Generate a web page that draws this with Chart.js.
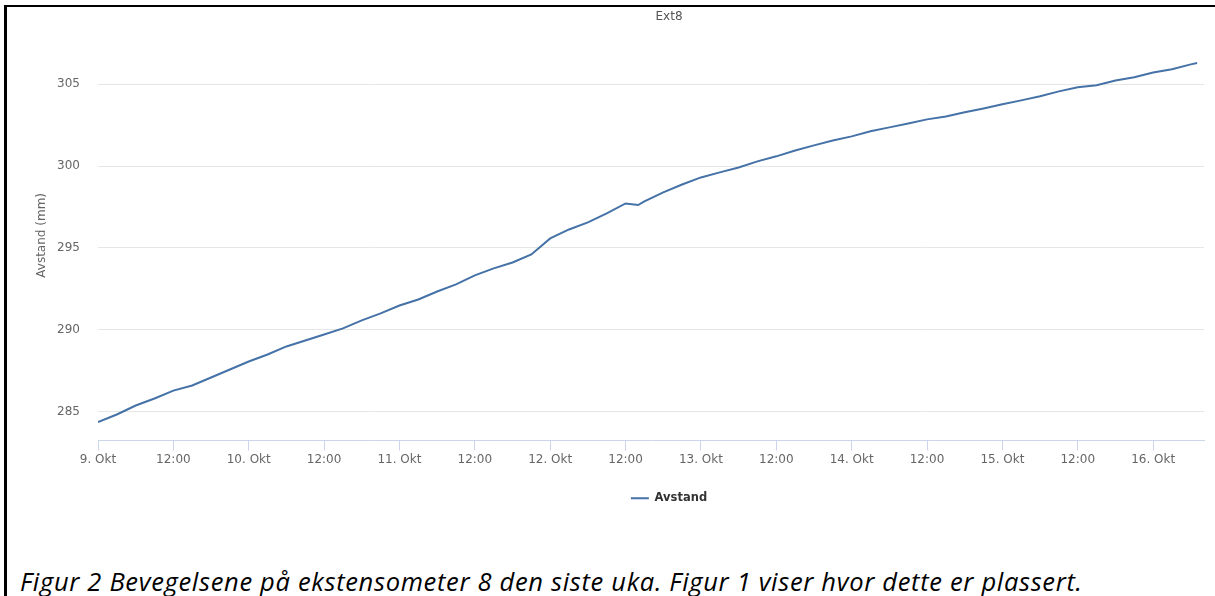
<!DOCTYPE html>
<html>
<head>
<meta charset="utf-8">
<script src="https://cdn.jsdelivr.net/npm/chart.js@4.4.0/dist/chart.umd.min.js"></script>
<style>
    html, body { margin: 0; padding: 0; background: #fff; overflow: hidden; }
    body { width: 1215px; height: 596px; position: relative; }
    .frame {
        position: absolute; left: 4px; top: 5px; width: 1300px; height: 700px;
        border-left: 3px solid #000; border-top: 2px solid #000;
    }
    .chart-wrap { position: absolute; left: 6px; top: 5px; width: 1326px; height: 511px; }
    .caption {
        position: absolute; left: 20px; top: 569px; white-space: nowrap;
        font-family: "Open Sans", "Liberation Sans", sans-serif; font-style: italic;
        font-size: 25.5px; line-height: 1; color: #000;
    }
</style>
</head>
<body>
<div class="frame"></div>
<div class="chart-wrap"><canvas id="extChart" width="1326" height="511"></canvas></div>
<div class="caption" id="caption">Figur 2 Bevegelsene på ekstensometer 8 den siste uka. Figur 1 viser hvor dette er plassert.</div>
<script>
// timer etter 9. Okt 00:00
const hours = [0, 3, 6, 9, 12, 15, 18, 21, 24, 27, 30, 33, 36, 39, 42, 45, 48, 51, 54, 57,
    60, 63, 66, 69, 72, 75, 78, 81, 84, 86, 87, 90, 93, 96, 99, 102, 105, 108, 111, 114,
    117, 120, 123, 126, 129, 132, 135, 138, 141, 144, 147, 150, 153, 156, 159, 162, 165, 168, 171, 174, 175];
const avstand = [284.35, 284.82, 285.37, 285.80, 286.28, 286.59, 287.08, 287.57, 288.06, 288.49,
    288.98, 289.34, 289.71, 290.08, 290.57, 291.00, 291.48, 291.85, 292.34, 292.77,
    293.32, 293.75, 294.11, 294.60, 295.58, 296.13, 296.56, 297.11, 297.72, 297.62, 297.85, 298.40,
    298.88, 299.31, 299.62, 299.92, 300.29, 300.60, 300.96, 301.27, 301.57, 301.82, 302.13,
    302.37, 302.61, 302.86, 303.04, 303.29, 303.53, 303.78, 304.02, 304.27, 304.57, 304.82,
    304.94, 305.24, 305.43, 305.73, 305.92, 306.22, 306.30];
const dagNavn = ['9. Okt', '10. Okt', '11. Okt', '12. Okt', '13. Okt', '14. Okt', '15. Okt', '16. Okt'];
const yTicks = [285, 290, 295, 300, 305];

const points = hours.map((h, i) => ({ x: h, y: avstand[i] }));
const font = { family: '"DejaVu Sans", Verdana, sans-serif', size: 12 };

new Chart(document.getElementById('extChart'), {
    type: 'line',
    data: {
        datasets: [{
            label: 'Avstand',
            data: points,
            borderColor: '#4572a7',
            backgroundColor: '#4572a7',
            borderWidth: 2,
            pointRadius: 0,
            tension: 0,
            yAxisID: 'y'
        }]
    },
    options: {
        responsive: false,
        animation: false,
        layout: { padding: { left: 0, right: 0, top: 0, bottom: 2 } },
        plugins: {
            tooltip: { enabled: false },
            title: {
                display: true,
                text: 'Ext8',
                color: '#555',
                font: { family: font.family, size: 12, weight: 'normal' },
                padding: { top: 1, bottom: 6 }
            },
            legend: {
                display: true,
                position: 'bottom',
                labels: {
                    color: '#333',
                    font: { family: font.family, size: 11.5, weight: 'bold' },
                    boxWidth: 18,
                    boxHeight: 2,
                    padding: 10,
                    generateLabels: chart => Chart.defaults.plugins.legend.labels.generateLabels(chart)
                        .map(l => Object.assign(l, { lineWidth: 0 }))
                }
            }
        },
        scales: {
            x: {
                type: 'linear',
                min: 0,
                max: 176.1,
                afterBuildTicks: scale => {
                    scale.ticks = [0, 12, 24, 36, 48, 60, 72, 84, 96, 108, 120, 132, 144, 156, 168].map(v => ({ value: v }));
                },
                afterFit: scale => { scale.height = 42; },
                ticks: {
                    autoSkip: false,
                    maxRotation: 0,
                    padding: 2,
                    color: '#666',
                    font: font,
                    callback: v => (v % 24 === 0 ? dagNavn[v / 24] : '12:00')
                },
                grid: {
                    drawOnChartArea: false,
                    drawTicks: true,
                    tickLength: 10,
                    color: '#ccd6eb'
                },
                border: { display: true, color: '#ccd6eb', width: 1 }
            },
            y: {
                type: 'linear',
                position: 'left',
                min: 283.23,
                max: 308.31,
                afterBuildTicks: scale => {
                    scale.ticks = yTicks.map(v => ({ value: v }));
                },
                afterFit: scale => { scale.width = 92; },
                ticks: {
                    padding: 18,
                    color: '#666',
                    font: font
                },
                grid: { color: '#e6e6e6', drawTicks: false },
                border: { display: false },
                title: {
                    display: true,
                    text: 'Avstand (mm)',
                    color: '#666',
                    font: font,
                    padding: { top: 28.8, bottom: 0 }
                }
            },
            // tom plass til høyre, diagrammet er beskåret i originalen
            spacer: {
                type: 'linear',
                axis: 'y',
                position: 'right',
                min: 283.23,
                max: 308.31,
                afterBuildTicks: scale => { scale.ticks = []; },
                afterFit: scale => { scale.width = 128; },
                ticks: { display: false },
                grid: { display: false, drawTicks: false },
                border: { display: false }
            }
        }
    }
});

// tilpass bildeteksten til samme bredde som i originalen
const cap = document.getElementById('caption');
const extra = 1062 - cap.getBoundingClientRect().width;
cap.style.letterSpacing = (extra / (cap.textContent.length - 1)) + 'px';
</script>
</body>
</html>
